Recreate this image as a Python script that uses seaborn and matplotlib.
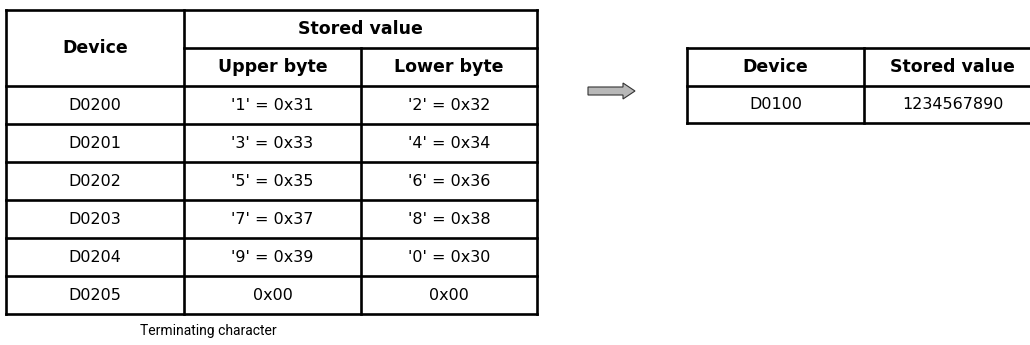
import matplotlib
matplotlib.use("Agg")
import matplotlib.pyplot as plt
from matplotlib.patches import FancyArrow
import seaborn as sns

# source table (ASCII string stored in D0200..D0205)
devices = ["D0200", "D0201", "D0202", "D0203", "D0204", "D0205"]
upper_bytes = ["'1' = 0x31", "'3' = 0x33", "'5' = 0x35", "'7' = 0x37", "'9' = 0x39", "0x00"]
lower_bytes = ["'2' = 0x32", "'4' = 0x34", "'6' = 0x36", "'8' = 0x38", "'0' = 0x30", "0x00"]
header_top = ["Device", "Stored value"]
header_sub = ["Upper byte", "Lower byte"]
note = "Terminating character"

# destination table
dest_devices = ["D0100"]
dest_values = ["1234567890"]

sns.set_theme(style="white")
plt.rcParams["font.family"] = ["DejaVu Sans"]

fig = plt.figure(figsize=(10.3, 3.45), dpi=100)
ax = fig.add_axes([0, 0, 1, 1])
ax.set_xlim(0, 1030)
ax.set_ylim(345, 0)
ax.axis("off")

LW = 1.9
body = dict(fontsize=11.5, ha="center", va="center", color="black")
bold = dict(fontsize=12.5, ha="center", va="center", color="black", fontweight="bold")


def hline(y, x0, x1):
    ax.plot([x0, x1], [y, y], color="black", lw=LW, solid_capstyle="projecting")


def vline(x, y0, y1):
    ax.plot([x, x], [y0, y1], color="black", lw=LW, solid_capstyle="projecting")


# ---- left table ----
cols = [6, 184, 361, 537]
top = 10
hdr = 38
row_h = 38
y_data = top + 2 * hdr
bottom = y_data + row_h * len(devices)

hline(top, cols[0], cols[3])
hline(top + hdr, cols[1], cols[3])
for i in range(len(devices) + 1):
    hline(y_data + i * row_h, cols[0], cols[3])
vline(cols[0], top, bottom)
vline(cols[1], top, bottom)
vline(cols[2], top + hdr, bottom)
vline(cols[3], top, bottom)

ax.text((cols[0] + cols[1]) / 2, top + hdr, header_top[0], **bold)
ax.text((cols[1] + cols[3]) / 2, top + hdr / 2, header_top[1], **bold)
ax.text((cols[1] + cols[2]) / 2, top + hdr * 1.5, header_sub[0], **bold)
ax.text((cols[2] + cols[3]) / 2, top + hdr * 1.5, header_sub[1], **bold)

for i, (d, u, l) in enumerate(zip(devices, upper_bytes, lower_bytes)):
    yc = y_data + (i + 0.5) * row_h
    ax.text((cols[0] + cols[1]) / 2, yc, d, **body)
    ax.text((cols[1] + cols[2]) / 2, yc, u, **body)
    ax.text((cols[2] + cols[3]) / 2, yc, l, **body)

ax.text(208, bottom + 17, note, fontsize=10, ha="center", va="center",
        family=["Roboto", "DejaVu Sans"], color="black")

# ---- arrow ----
ax.add_patch(FancyArrow(588, 91, 47, 0, width=8, head_width=16, head_length=12,
                        length_includes_head=True, fc="#b8b8b8", ec="#333333", lw=0.8))

# ---- right table ----
rcols = [687, 864, 1041]
rtop = 48
rrow = 37.5
rbottom = rtop + rrow * (1 + len(dest_devices))
for i in range(len(dest_devices) + 2):
    hline(rtop + i * rrow, rcols[0], rcols[2])
for x in rcols:
    vline(x, rtop, rbottom)

ax.text((rcols[0] + rcols[1]) / 2, rtop + rrow / 2, header_top[0], **bold)
ax.text((rcols[1] + rcols[2]) / 2, rtop + rrow / 2, header_top[1], **bold)
for i, (d, v) in enumerate(zip(dest_devices, dest_values)):
    yc = rtop + (i + 1.5) * rrow
    ax.text((rcols[0] + rcols[1]) / 2, yc, d, **body)
    ax.text((rcols[1] + rcols[2]) / 2, yc, v, **body)

fig.savefig("out.png", dpi=100, facecolor="white")
